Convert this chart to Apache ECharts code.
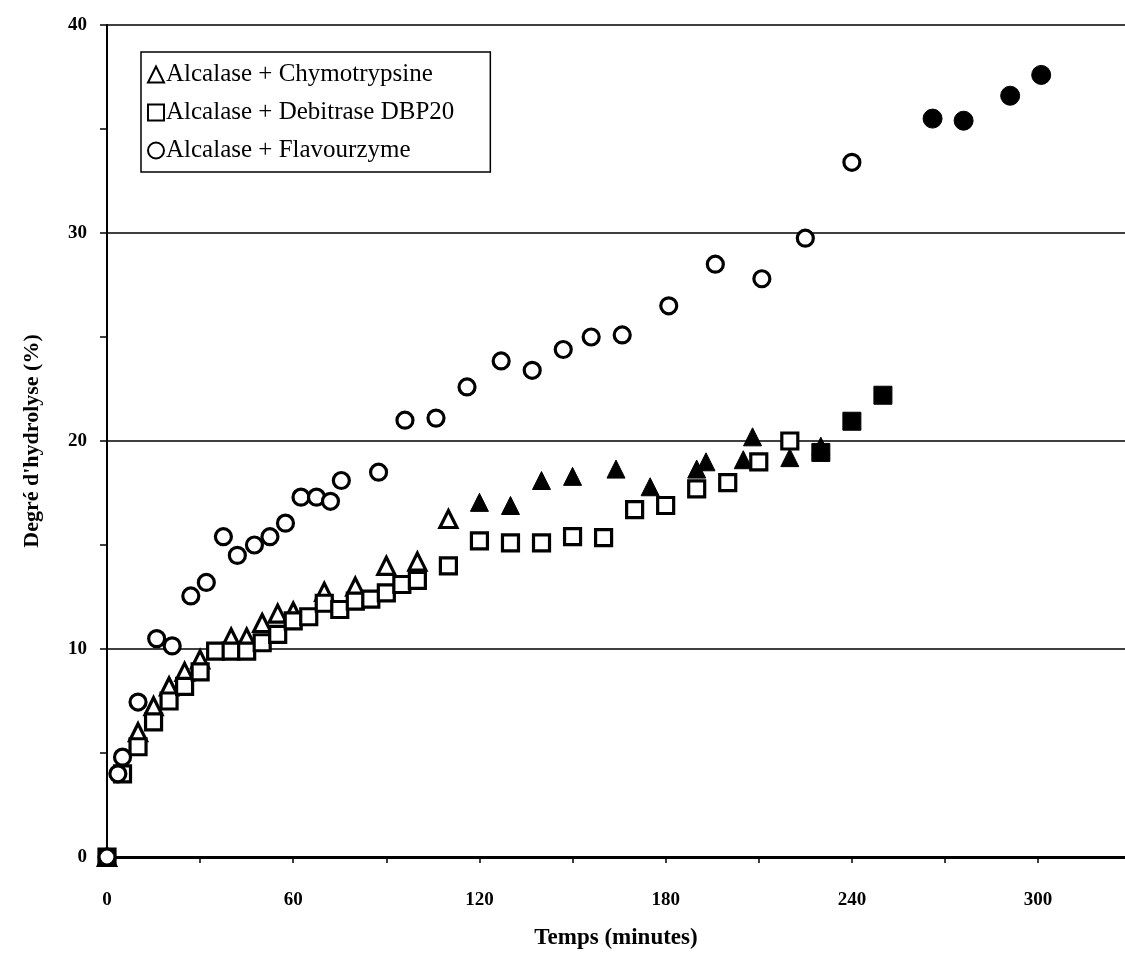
<!DOCTYPE html>
<html>
<head>
<meta charset="utf-8">
<script src="https://cdn.jsdelivr.net/npm/echarts@6/dist/echarts.min.js"></script>
<style>
  html, body { margin: 0; padding: 0; background: #fff; }
  #chart { width: 1125px; height: 963px; }
</style>
</head>
<body>
<div id="chart"></div>
<script>
// Alcalase + Chymotrypsine (triangles), open then filled
const triTime = [0, 10, 15, 20, 25, 30, 40, 45, 50, 55, 60, 70, 80, 90, 100, 110];
const triDH = [0, 6.0, 7.25, 8.2, 8.9, 9.5, 10.55, 10.55, 11.25, 11.7, 11.8, 12.75, 13.0, 14.0, 14.2, 16.25];
const triTimeFilled = [120, 130, 140, 150, 164, 175, 190, 193, 205, 208, 220, 230];
const triDHFilled = [17.05, 16.9, 18.1, 18.3, 18.65, 17.8, 18.65, 19.0, 19.1, 20.2, 19.2, 19.75];

// Alcalase + Debitrase DBP20 (squares)
const sqTime = [0, 5, 10, 15, 20, 25, 30, 35, 40, 45, 50, 55, 60, 65, 70, 75, 80, 85, 90, 95, 100,
                110, 120, 130, 140, 150, 160, 170, 180, 190, 200, 210, 220];
const sqDH = [0, 4.0, 5.3, 6.5, 7.5, 8.2, 8.9, 9.9, 9.9, 9.9, 10.3, 10.7, 11.35, 11.55, 12.2, 11.9, 12.3, 12.4, 12.7, 13.1, 13.3,
              14.0, 15.2, 15.1, 15.1, 15.4, 15.35, 16.7, 16.9, 17.7, 18.0, 19.0, 20.0];
const sqTimeFilled = [230, 240, 250];
const sqDHFilled = [19.45, 20.95, 22.2];

// Alcalase + Flavourzyme (circles)
const ciTime = [0, 3.5, 5, 10, 16, 21, 27, 32, 37.5, 42, 47.5, 52.5, 57.5, 62.5, 67.5, 72, 75.5, 87.5, 96, 106,
                116, 127, 137, 147, 156, 166, 181, 196, 211, 225, 240];
const ciDH = [0, 4.0, 4.8, 7.45, 10.5, 10.15, 12.55, 13.2, 15.4, 14.5, 15.0, 15.4, 16.05, 17.3, 17.3, 17.1, 18.1, 18.5, 21.0, 21.1,
              22.6, 23.85, 23.4, 24.4, 25.0, 25.1, 26.5, 28.5, 27.8, 29.75, 33.4];
const ciTimeFilled = [266, 276, 291, 301];
const ciDHFilled = [35.5, 35.4, 36.6, 37.6];

const xTicks = [0, 60, 120, 180, 240, 300];
const names = ['Alcalase + Chymotrypsine', 'Alcalase + Debitrase DBP20', 'Alcalase + Flavourzyme'];

function pairs(xs, ys) {
  return xs.map((x, i) => [x, ys[i]]);
}

const font = "'Liberation Serif', serif";
const hollow = { color: '#fff', borderColor: '#000', borderWidth: 3.2, opacity: 1 };
const filled = { color: '#000', borderColor: '#000', borderWidth: 1, opacity: 1 };

let myChart = echarts.init(document.getElementById('chart'));

option = {
  animation: false,
  textStyle: { fontFamily: font, color: '#000' },
  grid: { left: 107, right: 0, top: 25, bottom: 106 },
  legend: {
    data: names,
    orient: 'vertical',
    left: 141,
    top: 52,
    padding: [10, 36, 9, 6],
    itemGap: 13,
    itemWidth: 16,
    itemHeight: 16,
    backgroundColor: '#fff',
    borderColor: '#000',
    borderWidth: 1.5,
    borderRadius: 0,
    textStyle: { fontFamily: font, fontSize: 25, color: '#000', padding: [0, 0, 0, -3] }
  },
  xAxis: {
    type: 'value',
    min: 0,
    max: 328,
    interval: 30,
    name: 'Temps (minutes)',
    nameLocation: 'middle',
    nameGap: 70,
    nameTextStyle: { fontFamily: font, fontSize: 23, fontWeight: 'bold', color: '#000' },
    axisLine: { lineStyle: { color: '#000', width: 3 } },
    axisTick: { show: true, inside: false, length: 6, lineStyle: { color: '#000', width: 1.5 } },
    axisLabel: {
      margin: 34,
      fontFamily: font, fontSize: 19, fontWeight: 'bold', color: '#000',
      showMaxLabel: false,
      formatter: v => (xTicks.indexOf(v) >= 0 ? String(v) : '')
    },
    splitLine: { show: false }
  },
  yAxis: {
    type: 'value',
    min: 0,
    max: 40,
    interval: 10,
    name: "Degré d'hydrolyse (%)",
    nameLocation: 'middle',
    nameGap: 64,
    nameTextStyle: { fontFamily: font, fontSize: 22, fontWeight: 'bold', color: '#000' },
    axisLine: { show: true, lineStyle: { color: '#000', width: 2 } },
    axisTick: { show: true, inside: false, length: 7, lineStyle: { color: '#000', width: 1.5 } },
    minorTick: { show: true, splitNumber: 2, length: 7, lineStyle: { color: '#000', width: 1.5 } },
    axisLabel: { margin: 20, fontFamily: font, fontSize: 19, fontWeight: 'bold', color: '#000' },
    splitLine: { show: true, lineStyle: { color: '#000', width: 1.5 } }
  },
  series: [
    {
      name: names[0], type: 'scatter', symbol: 'triangle', symbolSize: 17,
      itemStyle: hollow, data: pairs(triTime, triDH)
    },
    {
      name: 'tri-filled', type: 'scatter', symbol: 'triangle', symbolSize: 18,
      itemStyle: filled, data: pairs(triTimeFilled, triDHFilled)
    },
    {
      name: names[1], type: 'scatter', symbol: 'rect', symbolSize: 16,
      itemStyle: hollow, data: pairs(sqTime, sqDH)
    },
    {
      name: 'sq-filled', type: 'scatter', symbol: 'rect', symbolSize: 18,
      itemStyle: filled, data: pairs(sqTimeFilled, sqDHFilled)
    },
    {
      name: names[2], type: 'scatter', symbol: 'circle', symbolSize: 16,
      itemStyle: hollow, data: pairs(ciTime, ciDH)
    },
    {
      name: 'ci-filled', type: 'scatter', symbol: 'circle', symbolSize: 19,
      itemStyle: filled, data: pairs(ciTimeFilled, ciDHFilled)
    }
  ]
};
myChart.setOption(option);
</script>
</body>
</html>
